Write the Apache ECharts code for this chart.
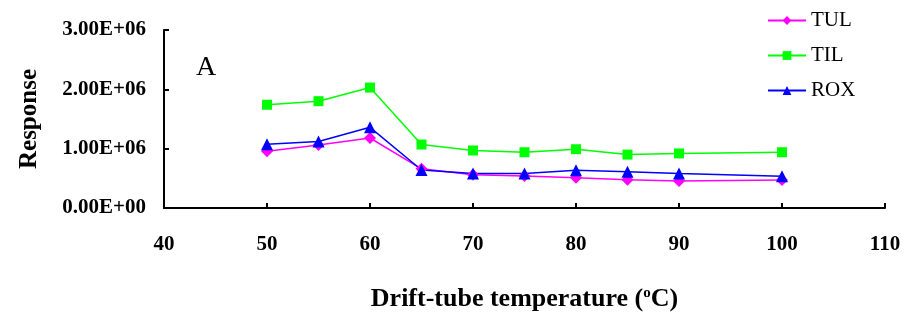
<!DOCTYPE html>
<html>
<head>
<meta charset="utf-8">
<script src="https://cdn.jsdelivr.net/npm/echarts@6/dist/echarts.min.js"></script>
<style>
  html, body { margin: 0; padding: 0; background: #fff; }
  #chart { width: 914px; height: 315px; }
</style>
</head>
<body>
<div id="chart"></div>
<script>
var temps = [50, 55, 60, 65, 70, 75, 80, 85, 90, 100];
var tul = [955000, 1060000, 1180000, 660000, 560000, 540000, 510000, 475000, 455000, 470000];
var til = [1740000, 1800000, 2030000, 1070000, 970000, 940000, 990000, 900000, 920000, 940000];
var rox = [1075000, 1120000, 1360000, 640000, 580000, 580000, 635000, 610000, 580000, 535000];

function pairs(vals) {
    return temps.map(function (t, i) { return [t, vals[i]]; });
}

var font = '"Liberation Serif", "Times New Roman", serif';

var option = {
    backgroundColor: '#ffffff',
    animation: false,
    grid: {
        left: 164,
        right: 29,
        top: 30,
        bottom: 107,
        outerBoundsMode: 'none'
    },
    legend: {
        orient: 'vertical',
        left: 762,
        top: 5,
        itemGap: 14,
        itemWidth: 38,
        itemHeight: 11,
        textStyle: {
            fontFamily: font,
            fontSize: 21,
            color: '#000'
        },
        data: ['TUL', 'TIL', 'ROX']
    },
    graphic: [{
        type: 'text',
        left: 196,
        top: 54,
        style: {
            text: 'A',
            font: '28px ' + font,
            fill: '#000'
        }
    }],
    xAxis: {
        type: 'value',
        min: 40,
        max: 110,
        interval: 10,
        name: 'Drift-tube temperature ({sup|o}C)',
        nameLocation: 'middle',
        nameGap: 78,
        nameTextStyle: {
            fontFamily: font,
            fontSize: 26,
            fontWeight: 'bold',
            color: '#000',
            rich: {
                sup: {
                    fontFamily: font,
                    fontSize: 15,
                    fontWeight: 'bold',
                    verticalAlign: 'top',
                    padding: [0, 0, 12, 0]
                }
            }
        },
        axisLine: { lineStyle: { color: '#000', width: 2 } },
        axisTick: { inside: true, length: 5, lineStyle: { color: '#000', width: 2 } },
        axisLabel: {
            margin: 26,
            fontFamily: font,
            fontSize: 21,
            fontWeight: 'bold',
            color: '#000'
        },
        splitLine: { show: false }
    },
    yAxis: {
        type: 'value',
        min: 0,
        max: 3000000,
        interval: 1000000,
        name: 'Response',
        nameLocation: 'middle',
        nameGap: 122,
        nameTextStyle: {
            fontFamily: font,
            fontSize: 25,
            fontWeight: 'bold',
            color: '#000'
        },
        axisLine: { show: true, lineStyle: { color: '#000', width: 2 } },
        axisTick: { show: true, inside: true, length: 5, lineStyle: { color: '#000', width: 2 } },
        axisLabel: {
            margin: 18,
            fontFamily: font,
            fontSize: 21,
            fontWeight: 'bold',
            color: '#000',
            formatter: function (v) {
                var e = v === 0 ? 0 : Math.floor(Math.log10(v));
                var m = v === 0 ? 0 : v / Math.pow(10, e);
                return m.toFixed(2) + 'E+' + (e < 10 ? '0' + e : e);
            }
        },
        splitLine: { show: false }
    },
    series: [{
        name: 'TUL',
        type: 'line',
        symbol: 'diamond',
        symbolSize: 12,
        lineStyle: { width: 1.5, color: '#ff00ff' },
        itemStyle: { color: '#ff00ff' },
        data: pairs(tul)
    }, {
        name: 'TIL',
        type: 'line',
        symbol: 'rect',
        symbolSize: 10,
        lineStyle: { width: 1.5, color: '#00ff00' },
        itemStyle: { color: '#00ff00' },
        data: pairs(til)
    }, {
        name: 'ROX',
        type: 'line',
        symbol: 'triangle',
        symbolSize: 12,
        lineStyle: { width: 1.5, color: '#0000ff' },
        itemStyle: { color: '#0000ff' },
        data: pairs(rox)
    }]
};

var myChart = echarts.init(document.getElementById('chart'));
myChart.setOption(option);
</script>
</body>
</html>
